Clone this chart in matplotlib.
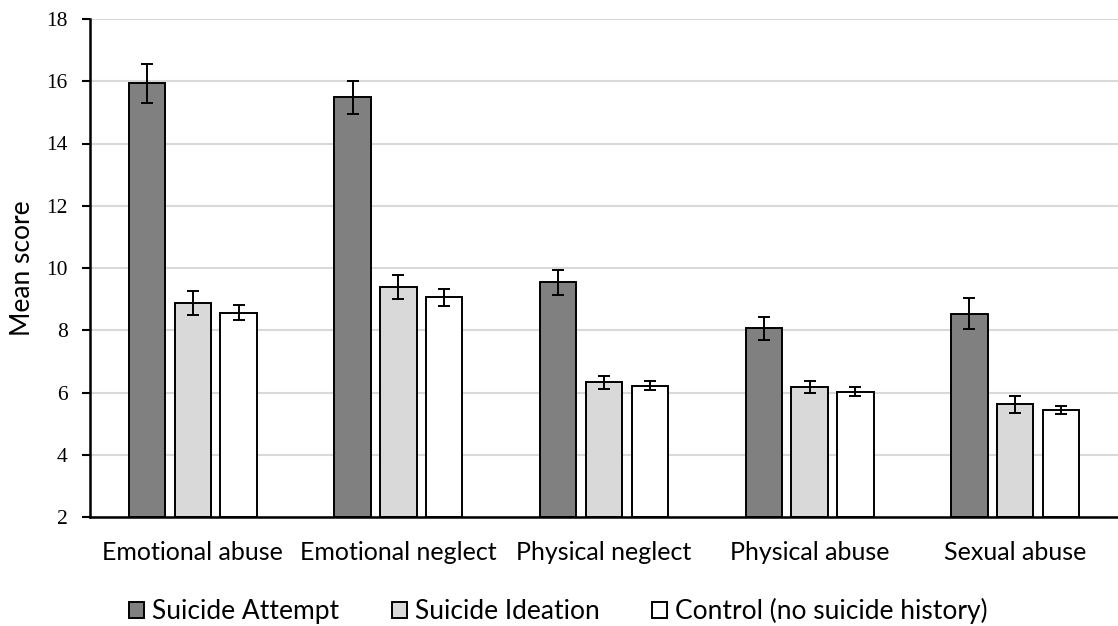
import numpy as np
import matplotlib
matplotlib.use("Agg")
import matplotlib.pyplot as plt
from matplotlib.patches import Patch

categories = ["Emotional abuse", "Emotional neglect", "Physical neglect",
              "Physical abuse", "Sexual abuse"]
series_names = ["Suicide Attempt", "Suicide Ideation", "Control (no suicide history)"]

attempt_mean = [15.93, 15.48, 9.54, 8.06, 8.53]
attempt_err = [0.62, 0.52, 0.41, 0.37, 0.50]
ideation_mean = [8.88, 9.39, 6.33, 6.17, 5.62]
ideation_err = [0.39, 0.37, 0.21, 0.19, 0.28]
control_mean = [8.57, 9.06, 6.22, 6.03, 5.43]
control_err = [0.25, 0.28, 0.14, 0.15, 0.13]

y_ticks = [2, 4, 6, 8, 10, 12, 14, 16, 18]

colors = ["#808080", "#d9d9d9", "#ffffff"]
means = [attempt_mean, ideation_mean, control_mean]
errs = [attempt_err, ideation_err, control_err]

SANS = "Lato"
SERIF = "Liberation Serif"

W, H = 1118, 626
fig = plt.figure(figsize=(W / 100, H / 100), dpi=100)
ax = fig.add_axes([90 / W, 1 - 517 / H, 1 - 90 / W, (517 - 19) / H])

x = np.arange(len(categories))
step = 0.223
width = 0.177
for i, (m, e, c) in enumerate(zip(means, errs, colors)):
    pos = x + (i - 1) * step
    ax.bar(pos, np.array(m) - 2, width=width, bottom=2, color=c,
           edgecolor="black", linewidth=1.4, zorder=3)
    ax.errorbar(pos, m, yerr=e, fmt="none", ecolor="black",
                elinewidth=1.4, capsize=4.3, capthick=1.4, zorder=4)

ax.set_xlim(-0.5, 4.5)
ax.set_ylim(2, 18)
ax.set_yticks(y_ticks)
ax.set_yticklabels([str(t) for t in y_ticks], family=SERIF, fontsize=15.5)
ax.set_xticks(x)
ax.set_xticklabels(categories, family=SANS, fontsize=18)
ax.tick_params(axis="x", length=0, pad=17)
ax.tick_params(axis="y", length=6, width=1.5, direction="out", pad=10)
ax.grid(axis="y", color="#d9d9d9", linewidth=1.5, zorder=0)
ax.set_axisbelow(True)
for s in ["top", "right"]:
    ax.spines[s].set_visible(False)
for s in ["left", "bottom"]:
    ax.spines[s].set_linewidth(1.8)
    ax.spines[s].set_zorder(5)

ax.set_ylabel("Mean score", family=SANS, fontsize=19, labelpad=8)

handles = [Patch(facecolor=c, edgecolor="black", linewidth=1.4) for c in colors]
fig.legend(handles, series_names, loc="center left",
           bbox_to_anchor=(129 / W, 1 - 611 / H),
           ncol=3, frameon=False, prop={"family": SANS, "size": 19},
           borderpad=0, borderaxespad=0,
           handlelength=0.57, handleheight=0.57, handletextpad=0.3,
           columnspacing=2.0)

fig.savefig("out.png", dpi=100)
